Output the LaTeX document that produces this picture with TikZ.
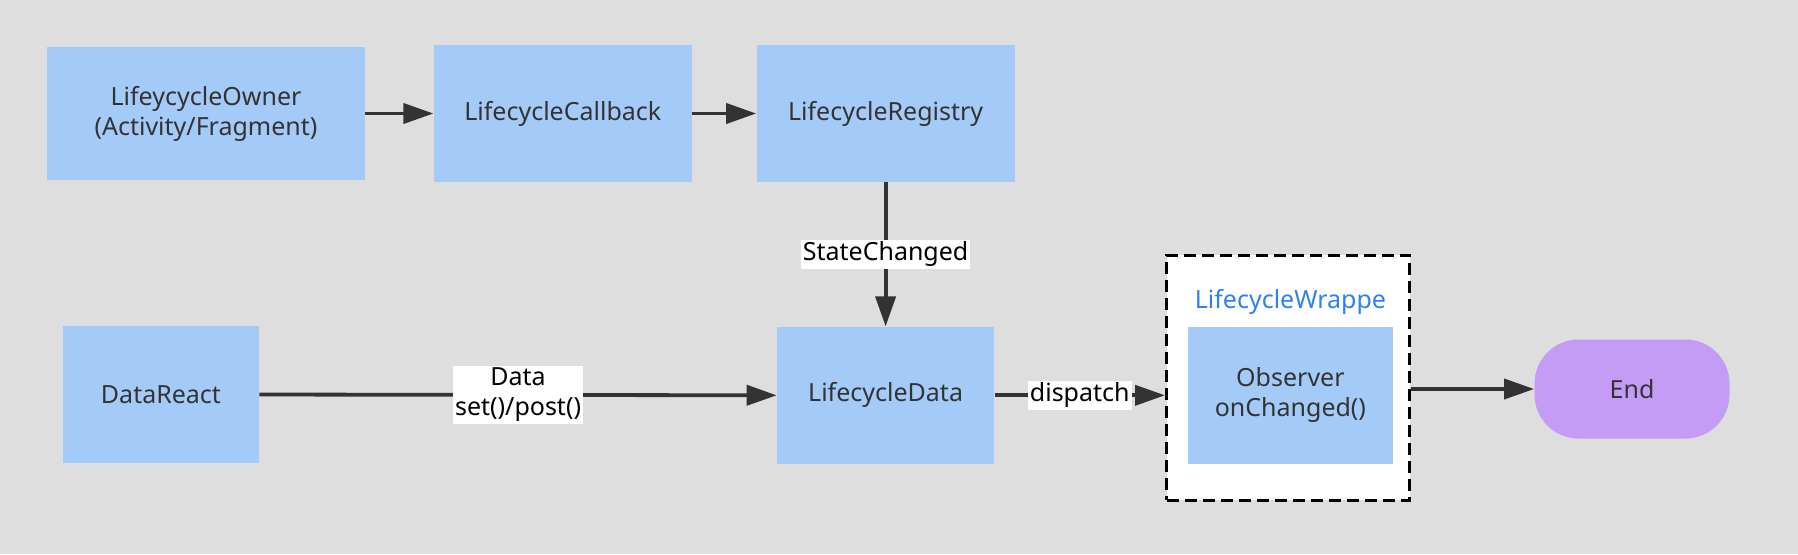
\documentclass[tikz,border=0pt]{standalone}
\usepackage{fontspec}
\setmainfont{Noto Sans}
\usetikzlibrary{positioning,arrows.meta}
\definecolor{ink}{HTML}{333333}
\definecolor{paper}{HTML}{DEDEDE}
\definecolor{sky}{HTML}{A4CBF8}
\definecolor{lilac}{HTML}{C59CF5}
\definecolor{wrapblue}{HTML}{2F80F2}

\begin{document}
\begin{tikzpicture}[font=\fontsize{12.5}{15}\selectfont,box/.style={fill=sky,text=ink,minimum height=68.5pt,align=center,inner sep=0pt},flow/.style={-{Triangle[length=15pt,width=10pt]},draw=ink,line width=1.9pt},tag/.style={fill=white,text=black,inner sep=1pt,align=center}]
\fill[paper] (0,0) rectangle (899pt,-277pt);
\useasboundingbox (0,0) rectangle (899pt,-277pt);
\node[box,minimum width=159pt,minimum height=66.5pt] (owner) at (103pt,-56.75pt) {LifeycycleOwner\\(Activity/Fragment)};
\node[box,minimum width=129pt,right=34pt of owner] (callback) {LifecycleCallback};
\node[box,minimum width=129pt,right=32pt of callback] (registry) {LifecycleRegistry};
\node[box,minimum width=108.5pt,below=72pt of registry] (data) {LifecycleData};
\node[box,minimum width=98pt] (react) at (80.5pt,-197.25pt) {DataReact};
\node[draw=black,fill=white,line width=1.5pt,dash pattern=on 6pt off 3pt,minimum width=121.5pt,minimum height=122.5pt] (wrapper) at (644pt,-188.75pt) {};
\node[box,minimum width=102.5pt,right=96.5pt of data] (observer) {Observer\\onChanged()};
\node[text=wrapblue,inner sep=0pt,above=6pt of observer] (wraplabel) {LifecycleWrappe};
\node[fill=lilac,text=ink,rounded corners=22pt,minimum width=97.5pt,minimum height=49.5pt] (finish) at (816pt,-194.5pt) {End};
\draw[flow] (owner.east)--(callback.west);
\draw[flow] (callback.east)--(registry.west);
\draw[flow] (registry.south)--node[tag]{StateChanged}(data.north);
\draw[flow] (react.east)--node[tag]{Data\\set()/post()}(data.west);
\draw[flow] (data.east)--node[tag]{dispatch}(wrapper.west |- data.east);
\draw[flow] (finish.west -| wrapper.east)--(finish.west);
\end{tikzpicture}
\end{document}
